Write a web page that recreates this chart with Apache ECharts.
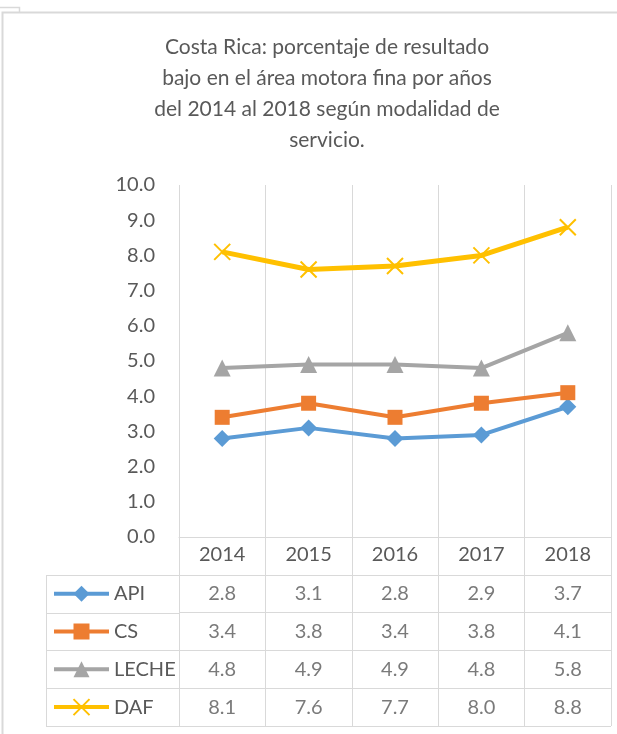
<!DOCTYPE html>
<html>
<head>
<meta charset="utf-8">
<script src="https://cdn.jsdelivr.net/npm/echarts@6/dist/echarts.min.js"></script>
<style>
  html, body { margin: 0; padding: 0; background: #fff; }
  #chart { width: 617px; height: 734px; }
</style>
</head>
<body>
<div id="chart"></div>
<script>
// datos
const years = ['2014', '2015', '2016', '2017', '2018']
const rowNames = ['API', 'CS', 'LECHE', 'DAF']
const api = [2.8, 3.1, 2.8, 2.9, 3.7]
const cs = [3.4, 3.8, 3.4, 3.8, 4.1]
const leche = [4.8, 4.9, 4.9, 4.8, 5.8]
const daf = [8.1, 7.6, 7.7, 8.0, 8.8]
const yMin = 0, yMax = 10, yStep = 1

const values = [api, cs, leche, daf]
const colors = ['#5B9BD5', '#ED7D31', '#A5A5A5', '#FFC000']
const symbols = ['diamond', 'rect', 'triangle', 'path://M0,0L10,10M10,0L0,10']
const symbolSizes = [17, 15, 17, 16]

const gridLine = '#d9d9d9'
const txt = '#595959'
const font = 'Lato'

// tabla bajo el gráfico
const tableLeft = 46, plotLeft = 179, plotRight = 6
const tableTop = 537, tableBottom = 8
const rowH = (734 - tableBottom - tableTop) / 5
const legendItemH = 20

let echart = echarts.init(document.getElementById('chart'), null, { renderer: 'canvas' })

let lineSeries = rowNames.map((name, i) => ({
  name: name,
  type: 'line',
  xAxisIndex: 0,
  yAxisIndex: 0,
  data: values[i],
  symbol: symbols[i],
  symbolSize: symbolSizes[i],
  showAllSymbol: true,
  lineStyle: { color: colors[i], width: i === 3 ? 5 : 4 },
  itemStyle: i === 3
    ? { color: colors[i], borderColor: colors[i], borderWidth: 2 }
    : { color: colors[i] },
  z: 3 + i
}))

let cellData = []
rowNames.forEach((name, r) => {
  years.forEach((y, c) => cellData.push([y, name, values[r][c]]))
})

// bordes de la columna de leyenda
let leftCol = []
for (let k = 1; k <= 5; k++) {
  let y = Math.round(tableTop + k * rowH) + 0.5
  leftCol.push({ type: 'line', shape: { x1: tableLeft, y1: y, x2: plotLeft, y2: y }, style: { stroke: gridLine, lineWidth: 1 } })
}
leftCol.push({ type: 'line', shape: { x1: tableLeft + 0.5, y1: Math.round(tableTop + rowH) + 0.5, x2: tableLeft + 0.5, y2: 734 - tableBottom + 0.5 }, style: { stroke: gridLine, lineWidth: 1 } })

echart.setOption({
  animation: false,
  backgroundColor: '#fff',
  textStyle: { fontFamily: font },
  title: {
    text: 'Costa Rica: porcentaje de resultado\nbajo en el área motora fina por años\ndel 2014 al 2018 según modalidad de\nservicio.',
    left: 327,
    top: 32,
    padding: 0,
    textAlign: 'center',
    textStyle: { fontFamily: font, fontSize: 21, fontWeight: 'normal', color: txt, lineHeight: 31 }
  },
  legend: {
    data: rowNames,
    orient: 'vertical',
    left: 52,
    top: tableTop + rowH * 1.5 - legendItemH / 2,
    height: 200,
    padding: 0,
    itemWidth: 55,
    itemHeight: legendItemH,
    itemGap: rowH - legendItemH,
    lineStyle: { width: 4 },
    textStyle: { fontFamily: font, fontSize: 20, color: txt, lineHeight: legendItemH }
  },
  grid: [
    { left: plotLeft, right: plotRight, top: 185, bottom: 734 - tableTop },
    { left: plotLeft, right: plotRight, top: tableTop, bottom: tableBottom }
  ],
  xAxis: [
    {
      gridIndex: 0,
      type: 'category',
      data: years,
      boundaryGap: true,
      axisLine: { lineStyle: { color: gridLine, width: 1 } },
      axisTick: { show: false },
      splitLine: { show: true, lineStyle: { color: gridLine, width: 1 } },
      axisLabel: { margin: 8, fontFamily: font, fontSize: 20, color: txt }
    },
    {
      gridIndex: 1,
      type: 'category',
      data: years,
      boundaryGap: true,
      axisLine: { show: false },
      axisTick: { show: false },
      axisLabel: { show: false },
      splitLine: { show: true, lineStyle: { color: gridLine, width: 1 } }
    }
  ],
  yAxis: [
    {
      gridIndex: 0,
      type: 'value',
      min: yMin,
      max: yMax,
      interval: yStep,
      axisLine: { show: false },
      axisTick: { show: false },
      splitLine: { show: false },
      axisLabel: {
        margin: 24,
        fontFamily: font,
        fontSize: 20,
        color: txt,
        formatter: v => v.toFixed(1)
      }
    },
    {
      gridIndex: 1,
      type: 'category',
      inverse: true,
      data: ['', ...rowNames],
      boundaryGap: true,
      axisLine: { show: false },
      axisTick: { show: false },
      axisLabel: { show: false },
      splitLine: { show: true, lineStyle: { color: gridLine, width: 1 } }
    }
  ],
  series: [
    ...lineSeries,
    {
      name: 'tabla',
      type: 'scatter',
      xAxisIndex: 1,
      yAxisIndex: 1,
      data: cellData,
      symbolSize: 0,
      silent: true,
      label: {
        show: true,
        position: 'inside',
        fontFamily: font,
        fontSize: 20,
        color: txt,
        formatter: p => p.value[2].toFixed(1)
      }
    }
  ],
  graphic: [
    // marco del gráfico
    { type: 'rect', shape: { x: 2.5, y: 12.5, width: 700, height: 800 }, style: { fill: 'none', stroke: gridLine, lineWidth: 2 }, z: 0 },
    { type: 'polyline', shape: { points: [[0, 7.5], [19.5, 7.5], [19.5, 12]] }, style: { fill: 'none', stroke: gridLine, lineWidth: 1.5 } },
    ...leftCol
  ]
})
</script>
</body>
</html>
